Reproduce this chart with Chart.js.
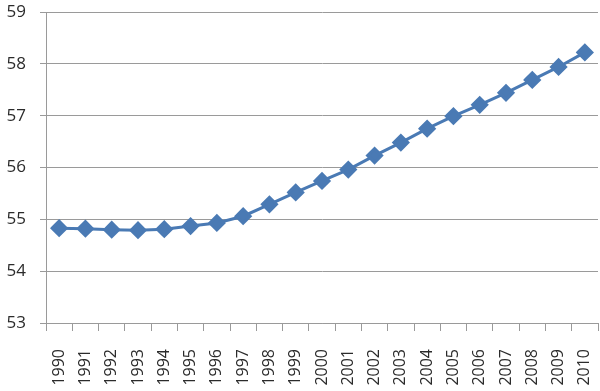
<!DOCTYPE html>
<html lang="en">
<head>
    <meta charset="UTF-8">
    <title>Line chart 1990-2010</title>
    <script src="https://cdn.jsdelivr.net/npm/chart.js"></script>
    <style>
        body {
            margin: 0;
            background-color: #fff;
        }
        .chart-container {
            width: 600px;
            height: 391px;
        }
    </style>
</head>
<body>
    <div class="chart-container">
        <canvas id="lineChart"></canvas>
    </div>
    <script>
        // Data
        const years = ['1990', '1991', '1992', '1993', '1994', '1995', '1996', '1997', '1998', '1999',
                       '2000', '2001', '2002', '2003', '2004', '2005', '2006', '2007', '2008', '2009', '2010'];
        const values = [54.83, 54.82, 54.80, 54.79, 54.81, 54.87, 54.93, 55.06, 55.29, 55.52,
                        55.74, 55.96, 56.23, 56.48, 56.75, 56.99, 57.21, 57.44, 57.69, 57.94, 58.22];
        const yMin = 53;
        const yMax = 59;

        const lineColor = '#4a7ab4';
        const gridColor = '#9a9a9a';
        const textColor = '#2b2b2b';

        new Chart(document.getElementById('lineChart'), {
            type: 'line',
            data: {
                labels: years,
                datasets: [{
                    data: values,
                    borderColor: lineColor,
                    backgroundColor: lineColor,
                    borderWidth: 3,
                    pointStyle: 'rectRot',
                    pointRadius: 7,
                    pointHoverRadius: 7,
                    tension: 0,
                    clip: false
                }]
            },
            options: {
                responsive: true,
                maintainAspectRatio: false,
                animation: false,
                layout: {
                    autoPadding: false,
                    padding: { top: 12, right: 2, left: 0, bottom: 0 }
                },
                plugins: {
                    legend: { display: false },
                    tooltip: { enabled: false }
                },
                scales: {
                    x: {
                        offset: true,
                        border: { color: gridColor, width: 1 },
                        grid: {
                            offset: true,
                            drawOnChartArea: false,
                            drawTicks: true,
                            tickLength: 8,
                            color: gridColor
                        },
                        ticks: {
                            color: textColor,
                            font: { family: 'Open Sans', size: 16 },
                            minRotation: 90,
                            maxRotation: 90,
                            padding: 18
                        },
                        afterFit: function(scale) {
                            scale.height = 68;
                            scale.paddingLeft = 0;
                            scale.paddingRight = 0;
                        }
                    },
                    y: {
                        min: yMin,
                        max: yMax,
                        border: { color: gridColor, width: 1 },
                        grid: {
                            color: gridColor,
                            tickLength: 6
                        },
                        ticks: {
                            stepSize: 1,
                            color: textColor,
                            font: { family: 'Open Sans', size: 17 },
                            padding: 14
                        },
                        afterFit: function(scale) {
                            scale.width = 46;
                            scale.paddingTop = 0;
                            scale.paddingBottom = 0;
                        }
                    }
                }
            }
        });
    </script>
</body>
</html>
